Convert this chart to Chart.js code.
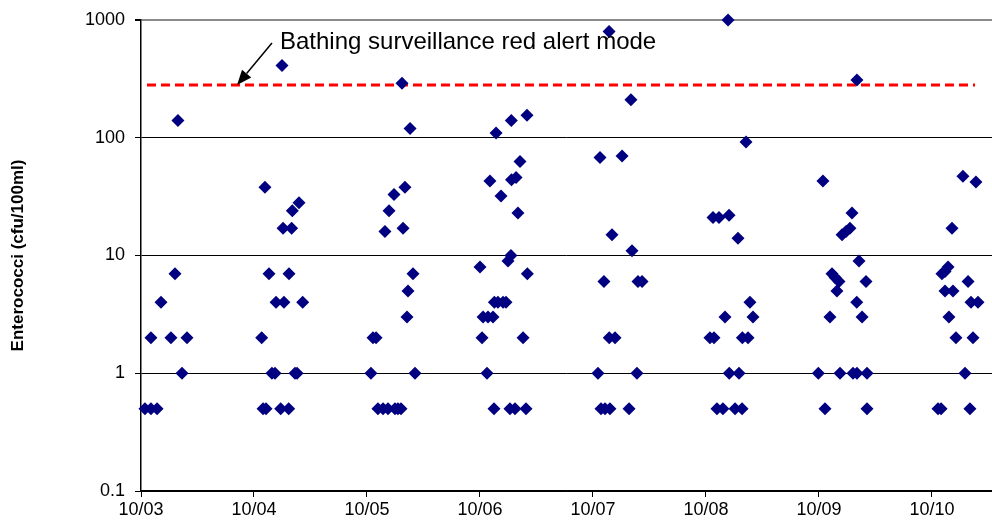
<!DOCTYPE html>
<html>
<head>
    <title>Enterococci</title>
    <script src="https://cdn.jsdelivr.net/npm/chart.js"></script>
    <style>
        body {
            margin: 0;
            padding: 0;
            background: white;
        }
        .container {
            width: 992px;
            height: 524px;
            position: relative;
        }
    </style>
</head>
<body>
    <div class="container">
        <canvas id="chart"></canvas>
    </div>

    <script>
        // sample dates as decimal years (tick "10/03" = 2003), one line per season
        const sampleDates = [
            2003.035, 2003.088, 2003.142, 2003.088, 2003.177, 2003.265, 2003.301, 2003.327, 2003.363, 2003.407,
            2004.068, 2004.080, 2004.106, 2004.097, 2004.133, 2004.159, 2004.186, 2004.195, 2004.236, 2004.248, 2004.257, 2004.265, 2004.307, 2004.310, 2004.339, 2004.333, 2004.363, 2004.381, 2004.398, 2004.431,
            2005.035, 2005.053, 2005.080, 2005.097, 2005.142, 2005.186, 2005.248, 2005.274, 2005.301, 2005.159, 2005.195, 2005.239, 2005.310, 2005.319, 2005.336, 2005.354, 2005.363, 2005.381, 2005.407, 2005.425,
            2006.000, 2006.018, 2006.027, 2006.062, 2006.071, 2006.088, 2006.115, 2006.124, 2006.127, 2006.142, 2006.159, 2006.186, 2006.204, 2006.230, 2006.248, 2006.265, 2006.274, 2006.279, 2006.277, 2006.310, 2006.319, 2006.336, 2006.354, 2006.381, 2006.407, 2006.416, 2006.419,
            2007.044, 2007.062, 2007.071, 2007.097, 2007.106, 2007.142, 2007.144, 2007.150, 2007.168, 2007.195, 2007.257, 2007.319, 2007.336, 2007.345, 2007.389, 2007.398, 2007.434,
            2008.035, 2008.071, 2008.062, 2008.097, 2008.115, 2008.150, 2008.168, 2008.195, 2008.204, 2008.206, 2008.257, 2008.283, 2008.292, 2008.319, 2008.322, 2008.354, 2008.372, 2008.389, 2008.416,
            2008.994, 2009.035, 2009.053, 2009.097, 2009.115, 2009.142, 2009.159, 2009.177, 2009.186, 2009.204, 2009.239, 2009.274, 2009.292, 2009.301, 2009.336, 2009.336, 2009.334, 2009.354, 2009.381, 2009.416, 2009.425, 2009.425,
            2010.053, 2010.080, 2010.088, 2010.115, 2010.115, 2010.142, 2010.150, 2010.177, 2010.186, 2010.212, 2010.274, 2010.292, 2010.319, 2010.336, 2010.345, 2010.363, 2010.389, 2010.407
        ];
        const enterococci = [
            0.5, 0.5, 0.5, 2, 4, 2, 7, 140, 1, 2,
            2, 0.5, 0.5, 38, 7, 1, 1, 4, 0.5, 410, 17, 4, 0.5, 7, 24, 17, 1, 1, 28, 4,
            1, 2, 2, 0.5, 0.5, 0.5, 0.5, 0.5, 0.5, 16, 24, 33, 290, 17, 38, 3, 5, 120, 7, 1,
            8, 2, 3, 1, 3, 43, 3, 0.5, 4, 110, 4, 32, 4, 4, 9, 0.5, 10, 44, 140, 0.5, 46, 23, 63, 2, 0.5, 155, 7,
            1, 68, 0.5, 6, 0.5, 800, 2, 0.5, 15, 2, 70, 0.5, 210, 11, 1, 6, 6,
            2, 2, 21, 0.5, 21, 0.5, 3, 1000, 22, 1, 0.5, 14, 1, 0.5, 2, 92, 2, 4, 3,
            1, 43, 0.5, 3, 7, 6.5, 5, 6, 1, 15, 16, 17, 23, 1, 1, 310, 4, 9, 3, 6, 1, 0.5,
            0.5, 0.5, 7, 5, 7.3, 8, 3, 17, 5, 2, 47, 1, 6, 0.5, 4, 2, 42, 4
        ];

        const tickYears = [2003, 2004, 2005, 2006, 2007, 2008, 2009, 2010];
        const tickLabels = ["10/03", "10/04", "10/05", "10/06", "10/07", "10/08", "10/09", "10/10"];
        const yTicks = [0.1, 1, 10, 100, 1000];

        const alertLevel = 280;
        const alertFrom = 2003.053;
        const alertTo = 2010.381;
        const alertText = "Bathing surveillance red alert mode";

        const points = sampleDates.map((d, i) => ({ x: d, y: enterococci[i] }));

        // draws the label and the arrow pointing at the red line
        const annotationPlugin = {
            id: "alertNote",
            afterDatasetsDraw(chart) {
                const ctx = chart.ctx;
                const xs = chart.scales.x, ys = chart.scales.y;
                const tx = xs.getPixelForValue(2004.23), ty = ys.getPixelForValue(640);
                const ax = xs.getPixelForValue(2004.159), ay = ys.getPixelForValue(637);
                const bx = xs.getPixelForValue(2003.85), by = ys.getPixelForValue(alertLevel);
                ctx.save();
                ctx.fillStyle = "#000";
                ctx.font = "24px Arial, 'Liberation Sans', sans-serif";
                ctx.textBaseline = "middle";
                ctx.fillText(alertText, tx, ty);
                ctx.strokeStyle = "#000";
                ctx.lineWidth = 1.5;
                const ang = Math.atan2(by - ay, bx - ax);
                const hl = 15, hw = 6;
                const baseX = bx - hl * Math.cos(ang), baseY = by - hl * Math.sin(ang);
                ctx.beginPath();
                ctx.moveTo(ax, ay);
                ctx.lineTo(baseX, baseY);
                ctx.stroke();
                ctx.beginPath();
                ctx.moveTo(bx, by);
                ctx.lineTo(baseX + hw * Math.sin(ang), baseY - hw * Math.cos(ang));
                ctx.lineTo(baseX - hw * Math.sin(ang), baseY + hw * Math.cos(ang));
                ctx.closePath();
                ctx.fill();
                ctx.restore();
            }
        };

        Chart.defaults.font.family = "Arial, 'Liberation Sans', sans-serif";
        Chart.defaults.color = "#000";

        new Chart(document.getElementById("chart"), {
            type: "scatter",
            data: {
                datasets: [{
                    label: "Enterococci",
                    data: points,
                    pointStyle: "rectRot",
                    pointRadius: 6.5,
                    pointHoverRadius: 6.5,
                    backgroundColor: "#000080",
                    borderColor: "#000080",
                    borderWidth: 0,
                    clip: false
                }, {
                    label: "Red alert",
                    type: "line",
                    data: [{ x: alertFrom, y: alertLevel }, { x: alertTo, y: alertLevel }],
                    borderColor: "#ff0000",
                    borderWidth: 3,
                    borderDash: [9, 5],
                    pointRadius: 0,
                    fill: false
                }]
            },
            options: {
                responsive: true,
                maintainAspectRatio: false,
                animation: false,
                layout: { autoPadding: false, padding: { top: 20, right: 0, left: 0, bottom: 0 } },
                plugins: {
                    legend: { display: false },
                    tooltip: { enabled: false }
                },
                scales: {
                    x: {
                        type: "linear",
                        min: 2003,
                        max: 2010.531,
                        afterBuildTicks: (s) => { s.ticks = tickYears.map(v => ({ value: v })); },
                        afterFit: (s) => { s.height = 33; s.paddingLeft = 0; s.paddingRight = 0; },
                        ticks: {
                            font: { size: 18 },
                            padding: 2,
                            maxRotation: 0,
                            callback: (v) => tickLabels[tickYears.indexOf(v)]
                        },
                        grid: {
                            drawOnChartArea: false,
                            drawTicks: true,
                            tickLength: 6,
                            tickColor: "#000"
                        },
                        border: { color: "#000", width: 1.5 }
                    },
                    y: {
                        type: "logarithmic",
                        min: 0.1,
                        max: 1000,
                        afterBuildTicks: (s) => { s.ticks = yTicks.map(v => ({ value: v })); },
                        afterFit: (s) => { s.width = 141; s.paddingTop = 0; s.paddingBottom = 0; },
                        ticks: {
                            font: { size: 18 },
                            padding: 10,
                            callback: (v) => String(v)
                        },
                        grid: {
                            tickLength: 6,
                            tickColor: "#000",
                            color: (c) => c.tick && c.tick.value === 1000 ? "#8a8a8a" : "#000",
                            lineWidth: (c) => c.tick && c.tick.value === 1000 ? 2 : 1
                        },
                        border: { color: "#000", width: 1.5 },
                        title: {
                            display: true,
                            text: "Enterococci (cfu/100ml)",
                            font: { size: 17, weight: "bold" },
                            padding: { top: 8, bottom: 0 }
                        }
                    }
                }
            },
            plugins: [annotationPlugin]
        });
    </script>
</body>
</html>
